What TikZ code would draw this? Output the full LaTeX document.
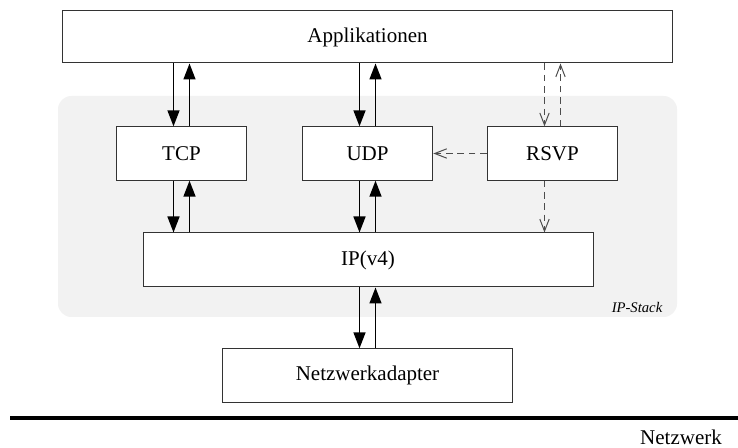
\documentclass[tikz,border=0pt]{standalone}
\usepackage{fontspec}
\setmainfont{Liberation Serif}
\usetikzlibrary{arrows.meta}

\definecolor{stackgray}{HTML}{F2F2F2}
\definecolor{boxline}{HTML}{333333}
\definecolor{dashline}{HTML}{4D4D4D}

\tikzset{
	layer/.style={draw=boxline, line width=0.75pt, fill=white, inner sep=0pt,
		font=\fontsize{15.75}{18}\selectfont},
	flow/.style={line width=1.1pt, -{Triangle[length=12pt,width=9pt]}},
	ctrl/.style={draw=dashline, line width=0.75pt, dash pattern=on 5pt off 3.5pt,
		-{Straight Barb[length=9pt,width=7pt]}}
}

\begin{document}
\begin{tikzpicture}[x=0.75pt,y=-0.75pt]
		\useasboundingbox (0,0) rectangle (738,448);

		% IP stack background
		\fill[stackgray, rounded corners=10pt] (58,96) rectangle (677,317);
		\node[font=\fontsize{11}{13}\selectfont\itshape] (stack) at (637,307) {IP-Stack};

		% Layers
		\node[layer, minimum width=457pt, minimum height=39pt] (app) at (367.5,37) {Applikationen};
		\node[layer, minimum width=98pt, minimum height=40pt] (tcp) at (181.5,153.5) {TCP};
		\node[layer, minimum width=98pt, minimum height=40pt] (udp) at (367.5,153.5) {UDP};
		\node[layer, minimum width=98pt, minimum height=40pt] (rsvp) at (552.5,153.5) {RSVP};
		\node[layer, minimum width=337.5pt, minimum height=40.5pt] (ip) at (368,260) {IP(v4)};
		\node[layer, minimum width=218pt, minimum height=40pt] (adapter) at (367.5,375.5) {Netzwerkadapter};

		% Data flow
		\draw[flow] ([xshift=-6pt]tcp.north |- app.south) -- ([xshift=-6pt]tcp.north);
		\draw[flow] ([xshift=6pt]tcp.north) -- ([xshift=6pt]tcp.north |- app.south);
		\draw[flow] ([xshift=-6pt]udp.north |- app.south) -- ([xshift=-6pt]udp.north);
		\draw[flow] ([xshift=6pt]udp.north) -- ([xshift=6pt]udp.north |- app.south);
		\draw[flow] ([xshift=-6pt]tcp.south) -- ([xshift=-6pt]tcp.south |- ip.north);
		\draw[flow] ([xshift=6pt]tcp.south |- ip.north) -- ([xshift=6pt]tcp.south);
		\draw[flow] ([xshift=-6pt]udp.south) -- ([xshift=-6pt]udp.south |- ip.north);
		\draw[flow] ([xshift=6pt]udp.south |- ip.north) -- ([xshift=6pt]udp.south);
		\draw[flow] ([xshift=-6pt]adapter.north |- ip.south) -- ([xshift=-6pt]adapter.north);
		\draw[flow] ([xshift=6pt]adapter.north) -- ([xshift=6pt]adapter.north |- ip.south);

		% RSVP signalling
		\draw[ctrl] ([xshift=-6pt]rsvp.north |- app.south) -- ([xshift=-6pt]rsvp.north);
		\draw[ctrl] ([xshift=6pt]rsvp.north) -- ([xshift=6pt]rsvp.north |- app.south);
		\draw[ctrl] (rsvp.west) -- (udp.east);
		\draw[ctrl] ([xshift=-6pt]rsvp.south) -- ([xshift=-6pt]rsvp.south |- ip.north);

		% Network
		\coordinate (netleft) at (10,418);
		\coordinate (netright) at (738,418);
		\draw[line width=2.3pt] (netleft) -- (netright);
		\node[font=\fontsize{15.75}{18}\selectfont] (net) at (681,437) {Netzwerk};
	\end{tikzpicture}
\end{document}
